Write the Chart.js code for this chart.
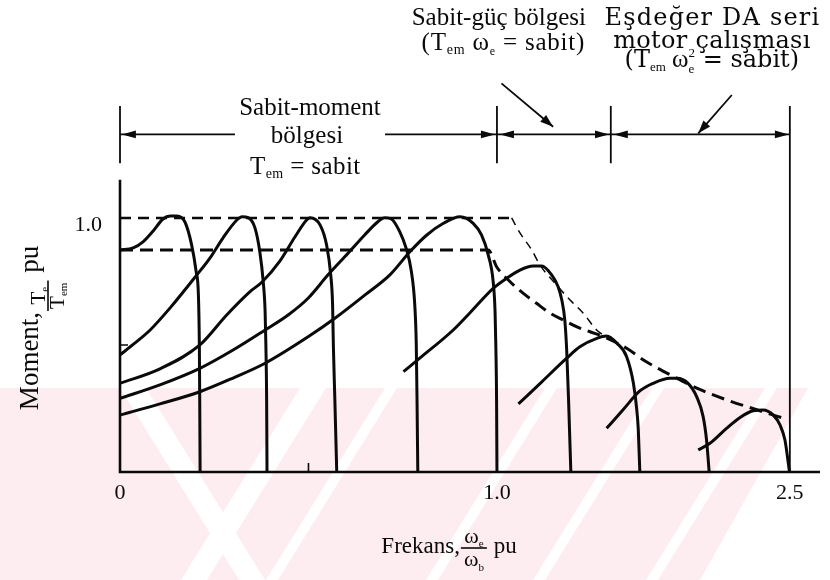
<!DOCTYPE html>
<html>
<head>
<meta charset="utf-8">
<script src="https://cdn.jsdelivr.net/npm/chart.js@4.4.0/dist/chart.umd.min.js"></script>
<style>
  html, body { margin: 0; padding: 0; background: #fff; }
  #wrap { width: 830px; height: 580px; }
</style>
</head>
<body>
<div id="wrap"><canvas id="chart" width="830" height="580"></canvas></div>
<script>
// Induction motor torque–speed curves under variable-frequency supply.
// x: supply frequency on the drawing's own scale (base frequency = 1.0),
// y: electromagnetic torque in pu of rated torque.

// --- torque–speed curves, constant-torque region ---
const curve1Freq   = [0, 0.035, 0.061, 0.088, 0.114, 0.133, 0.151, 0.172, 0.190, 0.202, 0.208, 0.2105, 0.2115, 0.2125];
const curve1Torque = [0.874, 0.882, 0.906, 0.949, 0.996, 1.008, 1.008, 0.985, 0.894, 0.789, 0.697, 0.500, 0.283, 0];

const curve2Freq   = [0, 0.040, 0.080, 0.133, 0.204, 0.239, 0.273, 0.310, 0.324, 0.340, 0.358, 0.371, 0.380, 0.385, 0.387, 0.389, 0.390];
const curve2Torque = [0.461, 0.508, 0.559, 0.646, 0.776, 0.843, 0.921, 0.992, 1.005, 1.001, 0.961, 0.866, 0.748, 0.630, 0.500, 0.283, 0];

const curve3Freq   = [0, 0.106, 0.212, 0.283, 0.345, 0.377, 0.424, 0.464, 0.495, 0.504, 0.531, 0.548, 0.559, 0.564, 0.566, 0.570, 0.575];
const curve3Torque = [0.349, 0.406, 0.500, 0.618, 0.710, 0.748, 0.830, 0.925, 0.992, 1.001, 0.972, 0.894, 0.776, 0.657, 0.500, 0.283, 0];

const curve4Freq   = [0, 0.106, 0.212, 0.300, 0.385, 0.446, 0.499, 0.552, 0.605, 0.649, 0.684, 0.702, 0.720, 0.742, 0.759, 0.773, 0.782, 0.786, 0.788, 0.790];
const curve4Torque = [0.290, 0.343, 0.408, 0.480, 0.559, 0.618, 0.684, 0.776, 0.861, 0.933, 0.985, 1.001, 0.996, 0.946, 0.881, 0.789, 0.657, 0.500, 0.283, 0];

const curve5Freq   = [0, 0.106, 0.212, 0.300, 0.385, 0.500, 0.570, 0.650, 0.716, 0.769, 0.814, 0.858, 0.902, 0.937, 0.959, 0.977, 0.990, 0.995, 0.997, 0.999, 1.0];
const curve5Torque = [0.224, 0.268, 0.316, 0.370, 0.428, 0.533, 0.605, 0.697, 0.776, 0.867, 0.933, 0.979, 1.005, 0.979, 0.933, 0.854, 0.749, 0.631, 0.500, 0.283, 0];

// --- constant-power region ---
const curve6Freq   = [0.752, 0.796, 0.884, 0.928, 0.990, 1.026, 1.061, 1.096, 1.119, 1.145, 1.162, 1.172, 1.180, 1.185, 1.190, 1.196];
const curve6Torque = [0.395, 0.449, 0.559, 0.626, 0.723, 0.763, 0.795, 0.811, 0.811, 0.776, 0.730, 0.677, 0.598, 0.480, 0.283, 0];

const curve7Freq   = [1.057, 1.119, 1.185, 1.220, 1.265, 1.291, 1.318, 1.344, 1.362, 1.371, 1.375, 1.379];
const curve7Torque = [0.268, 0.355, 0.448, 0.493, 0.526, 0.535, 0.507, 0.454, 0.349, 0.244, 0.165, 0];

// --- series-motor-like region ---
const curve8Freq   = [1.291, 1.334, 1.379, 1.414, 1.459, 1.478, 1.507, 1.530, 1.547, 1.556, 1.563];
const curve8Torque = [0.172, 0.244, 0.319, 0.349, 0.369, 0.369, 0.349, 0.296, 0.218, 0.126, 0];

const curve9Freq   = [1.534, 1.565, 1.609, 1.645, 1.680, 1.706, 1.733, 1.751, 1.764, 1.773, 1.776];
const curve9Torque = [0.087, 0.113, 0.172, 0.215, 0.241, 0.244, 0.224, 0.185, 0.126, 0.034, 0];

// --- dashed envelopes ---
const peakFlatFreq   = [0, 1.039];
const peakFlatTorque = [1.0, 1.0];
const peakFallFreq   = [1.039, 1.061, 1.092, 1.114, 1.158, 1.194, 1.229, 1.265, 1.291];
const peakFallTorque = [1.0, 0.941, 0.875, 0.815, 0.736, 0.677, 0.625, 0.558, 0.532];
const ratedFreq   = [0, 0.977, 0.999, 1.035, 1.070, 1.105, 1.141, 1.176, 1.211, 1.247, 1.282, 1.344, 1.393, 1.468, 1.530, 1.609, 1.689, 1.768];
const ratedTorque = [0.874, 0.874, 0.808, 0.749, 0.703, 0.664, 0.625, 0.598, 0.572, 0.552, 0.533, 0.487, 0.437, 0.376, 0.330, 0.284, 0.245, 0.208];

// --- axes ---
const xTickValues = [0, 1.0, 1.777];
const xTickLabels = ['0', '1.0', '2.5'];
const yTickValues = [1.0];
const yTickLabels = ['1.0'];
const xMinor = 0.5, yMinor = 0.5;
const xMax = 1.857, yMax = 1.858, yAxisTop = 1.15;

// --- operating-region brackets above the plot ---
const regionBounds   = [0, 1.0, 1.302, 1.777];
const bracketLevel   = 1.329;
const bracketTop     = 1.441;
const bracketBottom  = 1.215;
const bracketSegments = [[0, 0.305], [0.703, 1.777]];
const bracketArrows  = [[0.005, -1], [0.9947, 1], [1.008, -1], [1.2972, 1], [1.310, -1], [1.7745, 1]];
const leaderArrows   = [[1.012, 1.530, 1.149, 1.359], [1.623, 1.484, 1.534, 1.333]];

const FONT = '"Liberation Serif", "Times New Roman", serif';
const WIDE = '"DejaVu Serif", serif';
const INK = '#0a0a0a';

function pts(xs, ys) { return xs.map((x, i) => ({ x, y: ys[i] })); }

function solid(xs, ys) {
  return { data: pts(xs, ys), showLine: true, borderColor: INK, borderWidth: 3,
           pointRadius: 0, cubicInterpolationMode: 'monotone', borderJoinStyle: 'round', fill: false };
}
function dashed(xs, ys, w, dash) {
  return { data: pts(xs, ys), showLine: true, borderColor: INK, borderWidth: w, borderDash: dash,
           pointRadius: 0, cubicInterpolationMode: 'monotone', fill: false };
}

// ---------- text helpers ----------
function setFont(ctx, r) { ctx.font = r.size + 'px ' + (r.fam || FONT); }
function runWidth(ctx, r, ls) {
  setFont(ctx, r);
  if (r.stack) return Math.max(ctx.measureText(r.stack[0]).width, ctx.measureText(r.stack[1]).width) + ls;
  let w = 0;
  for (const ch of r.t) w += ctx.measureText(ch).width + ls;
  return w;
}
function runsWidth(ctx, runs, ls) { return runs.reduce((s, r) => s + runWidth(ctx, r, ls), 0) - ls; }
function drawRuns(ctx, runs, x, y, ls, align) {
  ls = ls || 0;
  const total = runsWidth(ctx, runs, ls);
  let cx = align === 'left' ? x : x - total / 2;
  ctx.textAlign = 'left';
  ctx.textBaseline = 'alphabetic';
  for (const r of runs) {
    setFont(ctx, r);
    if (r.stack) {
      ctx.fillText(r.stack[0], cx, y + r.dy[0]);
      ctx.fillText(r.stack[1], cx, y + r.dy[1]);
      cx += runWidth(ctx, r, ls);
    } else {
      for (const ch of r.t) { ctx.fillText(ch, cx, y + (r.dy || 0)); cx += ctx.measureText(ch).width + ls; }
    }
  }
  return total;
}
// a title made of text runs and stacked fractions, centred on (cx, base)
function drawTitle(ctx, parts, cx, base) {
  const widths = parts.map(p => p.frac
    ? Math.max(runsWidth(ctx, p.frac.num, 0), runsWidth(ctx, p.frac.den, 0)) + 2 * p.frac.pad
    : runsWidth(ctx, p.runs, 0));
  const total = widths.reduce((a, b) => a + b, 0);
  let x = cx - total / 2;
  parts.forEach((p, i) => {
    const w = widths[i];
    if (p.frac) {
      const f = p.frac;
      drawRuns(ctx, f.num, x + w / 2, base + f.numDy, 0);
      drawRuns(ctx, f.den, x + w / 2, base + f.denDy, 0);
      ctx.lineWidth = 1.6;
      ctx.beginPath();
      ctx.moveTo(x + 1, base + f.barDy);
      ctx.lineTo(x + w - 1, base + f.barDy);
      ctx.stroke();
    } else {
      drawRuns(ctx, p.runs, x, base, 0, 'left');
    }
    x += w;
  });
}

function arrowHead(ctx, tx, ty, ang, len, half) {
  ctx.beginPath();
  ctx.moveTo(tx, ty);
  ctx.lineTo(tx - len * Math.cos(ang) + half * Math.sin(ang), ty - len * Math.sin(ang) - half * Math.cos(ang));
  ctx.lineTo(tx - len * Math.cos(ang) - half * Math.sin(ang), ty - len * Math.sin(ang) + half * Math.cos(ang));
  ctx.closePath();
  ctx.fill();
}

// faint striped emblem behind the lower part of the figure
const backdrop = {
  id: 'backdrop',
  beforeDraw(chart) {
    const ctx = chart.ctx;
    ctx.save();
    ctx.fillStyle = 'rgb(253,236,240)';
    ctx.beginPath();
    ctx.moveTo(0, 388); ctx.lineTo(808, 388); ctx.lineTo(700, 580); ctx.lineTo(0, 580);
    ctx.closePath();
    ctx.fill();
    ctx.fillStyle = '#fff';
    const band = (x0, dir, w) => {
      ctx.beginPath();
      ctx.moveTo(x0, 388); ctx.lineTo(x0 + w, 388);
      ctx.lineTo(x0 + w + dir * 192 * 0.62, 580); ctx.lineTo(x0 + dir * 192 * 0.62, 580);
      ctx.closePath(); ctx.fill();
    };
    band(120, 1, 26);
    band(300, -1, 26);
    band(385, -1, 12);
    band(545, -1, 12);
    band(652, -1, 12);
    band(765, -1, 12);
    ctx.restore();
  }
};

const annotations = {
  id: 'annotations',
  afterDatasetsDraw(chart) {
    const ctx = chart.ctx;
    const xs = chart.scales.x, ys = chart.scales.y;
    const X = v => xs.getPixelForValue(v), Y = v => ys.getPixelForValue(v);
    ctx.save();
    ctx.strokeStyle = INK;
    ctx.fillStyle = INK;
    ctx.lineCap = 'butt';

    // axes
    ctx.lineWidth = 2.6;
    ctx.beginPath();
    ctx.moveTo(X(0), Y(yAxisTop)); ctx.lineTo(X(0), Y(0)); ctx.lineTo(X(xMax), Y(0));
    ctx.stroke();
    ctx.lineWidth = 1.6;
    ctx.beginPath();
    ctx.moveTo(X(xMinor), Y(0)); ctx.lineTo(X(xMinor), Y(0) - 9);
    ctx.moveTo(X(0), Y(yMinor)); ctx.lineTo(X(0) + 8, Y(yMinor));
    ctx.stroke();

    // region brackets
    ctx.lineWidth = 1.8;
    ctx.beginPath();
    regionBounds.forEach((b, i) => {
      const last = i === regionBounds.length - 1;
      ctx.moveTo(X(b), Y(bracketTop));
      ctx.lineTo(X(b), last ? Y(0) : Y(bracketBottom));
    });
    bracketSegments.forEach(([a, b]) => { ctx.moveTo(X(a), Y(bracketLevel)); ctx.lineTo(X(b), Y(bracketLevel)); });
    ctx.stroke();
    bracketArrows.forEach(([x, dir]) => {
      arrowHead(ctx, X(x), Y(bracketLevel), dir > 0 ? 0 : Math.PI, 14, 3.8);
    });

    // leader arrows
    ctx.lineWidth = 1.8;
    leaderArrows.forEach(([x0, y0, x1, y1]) => {
      const px0 = X(x0), py0 = Y(y0), px1 = X(x1), py1 = Y(y1);
      ctx.beginPath(); ctx.moveTo(px0, py0); ctx.lineTo(px1, py1); ctx.stroke();
      arrowHead(ctx, px1, py1, Math.atan2(py1 - py0, px1 - px0), 13, 4.5);
    });

    // region labels
    const T = 25, S = 14;
    drawRuns(ctx, [{ t: 'Sabit-moment', size: T }], X(0.504), Y(1.406));
    drawRuns(ctx, [{ t: 'bölgesi', size: T }], X(0.496), Y(1.294));
    drawRuns(ctx, [{ t: 'T', size: T }, { t: 'em', size: S, dy: 4 }, { t: ' = sabit', size: T }], X(0.491), Y(1.173), 0.4);

    drawRuns(ctx, [{ t: 'Sabit-güç bölgesi', size: T }], X(1.005), Y(1.760));
    drawRuns(ctx, [{ t: '(T', size: T }, { t: 'em', size: S, dy: 4 }, { t: ' ω', size: T },
                   { t: 'e', size: 12, dy: 5 }, { t: ' = sabit)', size: T }], X(1.016), Y(1.661), 0.8);

    drawRuns(ctx, [{ t: 'Eşdeğer DA seri', size: 24, fam: WIDE }], X(1.570), Y(1.760), 1.2);
    drawRuns(ctx, [{ t: 'motor çalışması', size: 24, fam: WIDE }], X(1.570), Y(1.669), 0.3);
    drawRuns(ctx, [{ t: '(T', size: 24, fam: WIDE }, { t: 'em', size: 13, dy: 4 }, { t: ' ω', size: 25 },
                   { stack: ['2', 'e'], size: 13, dy: [-10, 6] }, { t: ' = sabit)', size: 24, fam: WIDE }],
             X(1.570), Y(1.594), 0);

    // axis titles
    drawTitle(ctx, [
      { runs: [{ t: 'Frekans,', size: 23 }] },
      { frac: { num: [{ t: 'ω', size: 22 }, { t: 'e', size: 11, dy: 4 }],
                den: [{ t: 'ω', size: 22 }, { t: 'b', size: 11, dy: 5 }],
                pad: 4, barDy: -5, numDy: -10, denDy: 13 } },
      { runs: [{ t: ' pu', size: 23 }] }
    ], 449, 553);

    ctx.save();
    ctx.translate(38, 328);
    ctx.rotate(-Math.PI / 2);
    drawTitle(ctx, [
      { runs: [{ t: 'Moment,', size: 27 }] },
      { frac: { num: [{ t: 'T', size: 21 }, { t: 'e', size: 11, dy: 3 }],
                den: [{ t: 'T', size: 21 }, { t: 'em', size: 11, dy: 3 }],
                pad: 3, barDy: 10, numDy: 7, denDy: 26 } },
      { runs: [{ t: ' pu', size: 27 }] }
    ], 0, 0);
    ctx.restore();

    ctx.restore();
  }
};

new Chart(document.getElementById('chart'), {
  type: 'scatter',
  data: {
    datasets: [
      dashed(peakFlatFreq, peakFlatTorque, 2.4, [11, 7]),
      dashed(peakFallFreq, peakFallTorque, 1.5, [8, 6]),
      dashed(ratedFreq, ratedTorque, 3, [13, 7]),
      solid(curve1Freq, curve1Torque),
      solid(curve2Freq, curve2Torque),
      solid(curve3Freq, curve3Torque),
      solid(curve4Freq, curve4Torque),
      solid(curve5Freq, curve5Torque),
      solid(curve6Freq, curve6Torque),
      solid(curve7Freq, curve7Torque),
      solid(curve8Freq, curve8Torque),
      solid(curve9Freq, curve9Torque)
    ]
  },
  options: {
    responsive: false,
    devicePixelRatio: 1,
    animation: false,
    layout: { padding: { left: 0, right: 10, top: 0, bottom: 0 } },
    plugins: { legend: { display: false }, tooltip: { enabled: false } },
    scales: {
      x: {
        type: 'linear', min: 0, max: xMax,
        grid: { display: false, drawTicks: false },
        border: { display: false },
        afterFit: s => { s.height = 108; s.paddingLeft = 0; s.paddingRight = 0; },
        afterBuildTicks: s => { s.ticks = xTickValues.map(v => ({ value: v })); },
        ticks: {
          autoSkip: false, maxRotation: 0, padding: 8, color: INK,
          font: { family: FONT, size: 22 },
          callback: (v, i) => xTickLabels[i]
        }
      },
      y: {
        type: 'linear', min: 0, max: yMax,
        grid: { display: false, drawTicks: false },
        border: { display: false },
        afterFit: s => { s.width = 120; s.paddingTop = 0; s.paddingBottom = 0; },
        afterBuildTicks: s => { s.ticks = yTickValues.map(v => ({ value: v })); },
        ticks: {
          autoSkip: false, padding: 18, labelOffset: 7, color: INK,
          font: { family: FONT, size: 22 },
          callback: (v, i) => yTickLabels[i]
        }
      }
    }
  },
  plugins: [backdrop, annotations]
});
</script>
</body>
</html>
